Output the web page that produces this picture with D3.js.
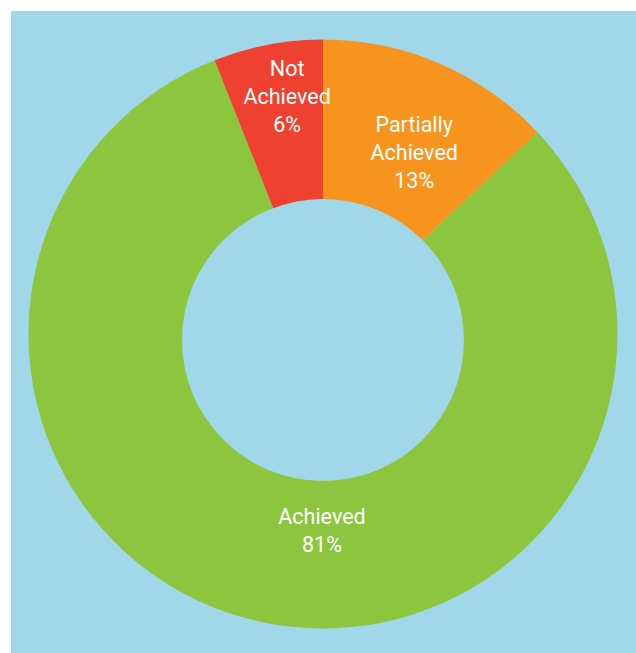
<!DOCTYPE html>
<html>
<head>
<meta charset="utf-8">
<script src="https://cdn.jsdelivr.net/npm/d3@7"></script>
<style>
  html, body { margin: 0; padding: 0; background: #ffffff; }
  svg { display: block; }
</style>
</head>
<body>
<svg id="chart" width="636" height="653"></svg>
<script>
// Outcome shares, listed clockwise from 12 o'clock
const categories = ["Partially Achieved", "Achieved", "Not Achieved"];
const values = [13, 81, 6];
const labelLines = [["Partially", "Achieved"], ["Achieved"], ["Not", "Achieved"]];

// Presentation settings
const colors = { "Partially Achieved": "#F7941E", "Achieved": "#8CC63F", "Not Achieved": "#EF4130" };
const panelColor = "#A0D8EA";
const cx = 323, cy = 334, outerR = 294.5;
const hole = { dx: 0, dy: 6, r: 141 };
// label anchor (clockwise degrees from top, distance from centre) per slice
const labelAnchor = {
  "Partially Achieved": { angle: 26.7, r: 203 },
  "Achieved": { angle: 180.3, r: 196 },
  "Not Achieved": { angle: -8.6, r: 240 }
};
const fontSize = 21.5, lineH = 28;

const svg = d3.select("#chart");
svg.append("rect").attr("x", 11).attr("y", 11).attr("width", 625).attr("height", 642).attr("fill", panelColor);

const data = categories.map((c, i) => ({ name: c, value: values[i], lines: labelLines[i] }));
const pie = d3.pie().value(d => d.value).sort(null).startAngle(0).endAngle(2 * Math.PI);
const arcs = pie(data);
const arc = d3.arc().innerRadius(0).outerRadius(outerR);

const g = svg.append("g").attr("transform", `translate(${cx},${cy})`);
g.selectAll("path.slice").data(arcs).join("path")
  .attr("class", "slice")
  .attr("d", arc)
  .attr("fill", d => colors[d.data.name]);

// centre hole
g.append("circle").attr("cx", hole.dx).attr("cy", hole.dy).attr("r", hole.r).attr("fill", panelColor);

const fmt = v => `${v}%`;
const labels = g.selectAll("text.lbl").data(arcs).join("text")
  .attr("class", "lbl")
  .attr("text-anchor", "middle")
  .attr("fill", "#ffffff")
  .style("font-family", "Roboto, 'Noto Sans', sans-serif")
  .style("font-size", fontSize + "px")
  .attr("transform", d => {
    const a = labelAnchor[d.data.name];
    const t = a.angle * Math.PI / 180;
    return `translate(${a.r * Math.sin(t)},${-a.r * Math.cos(t)})`;
  });

labels.each(function(d) {
  const lines = d.data.lines.concat([fmt(d.data.value)]);
  const n = lines.length;
  const first = -((n - 1) / 2) * lineH + fontSize * 0.36;
  d3.select(this).selectAll("tspan").data(lines).join("tspan")
    .attr("x", 0)
    .attr("y", (l, i) => first + i * lineH)
    .text(l => l);
});
</script>
</body>
</html>
